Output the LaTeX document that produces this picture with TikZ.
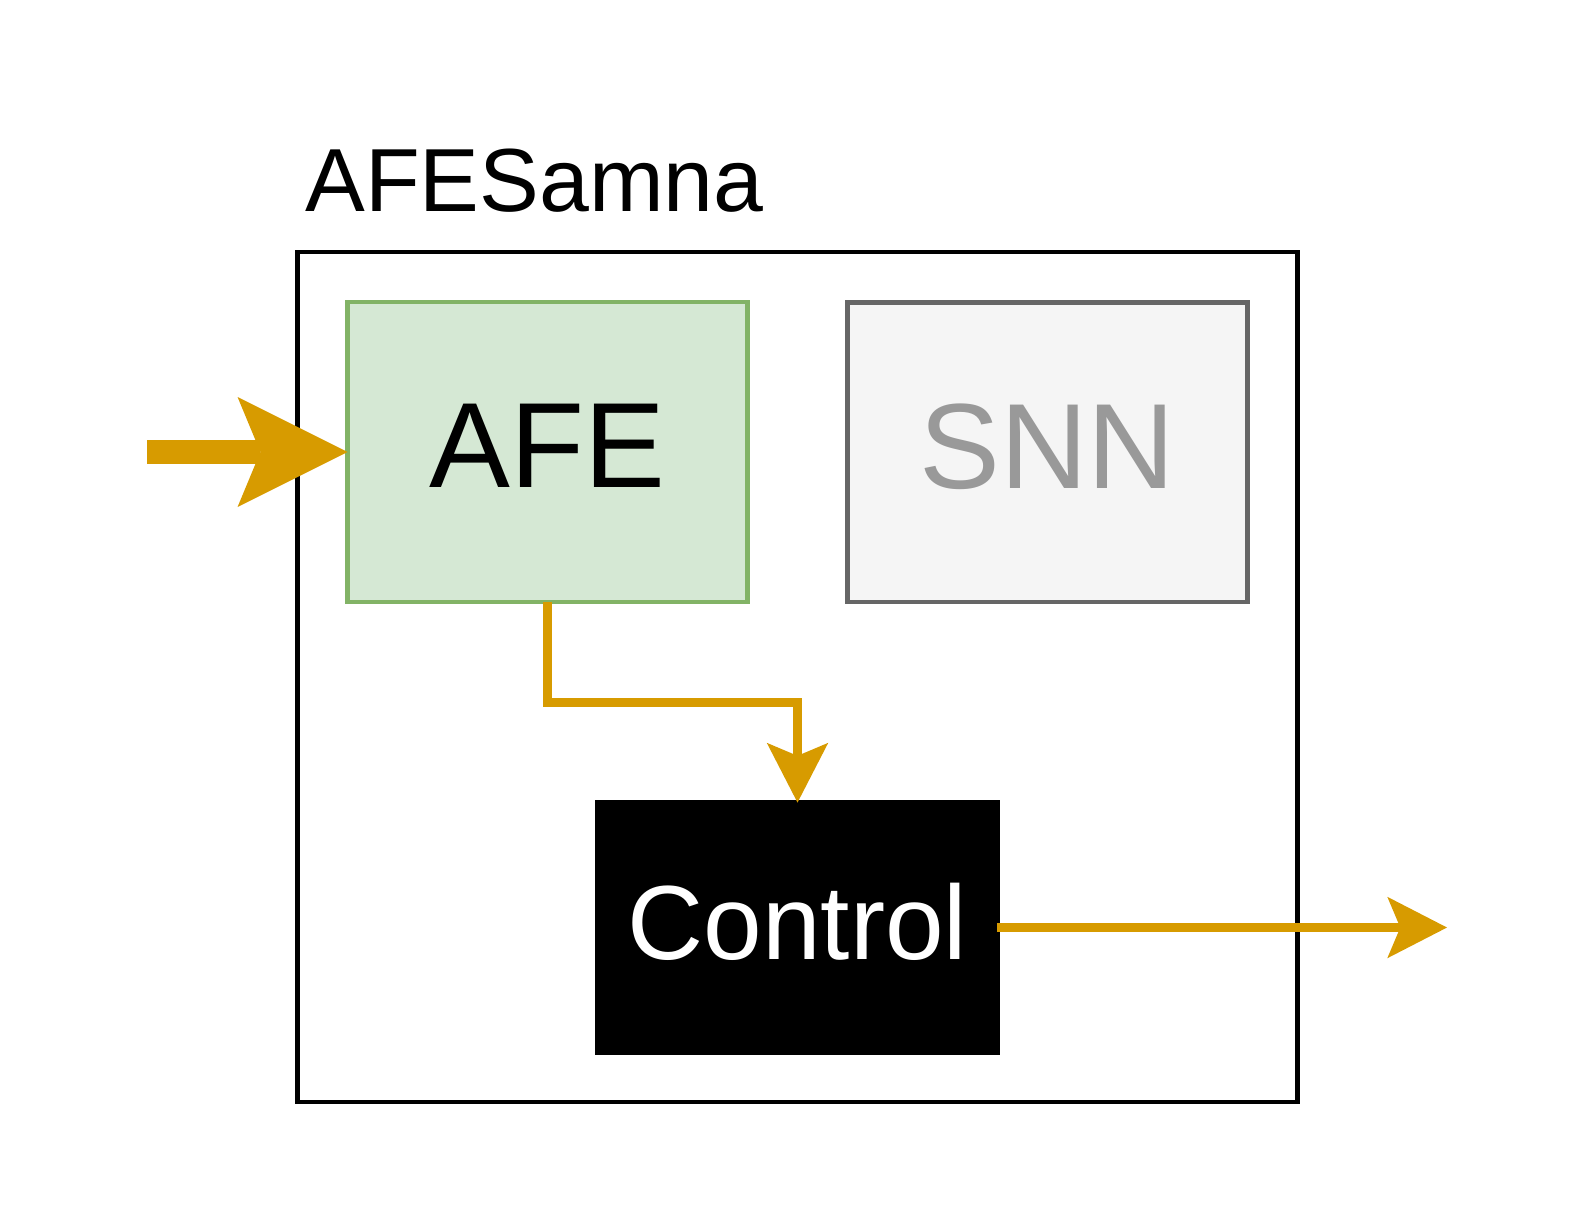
\documentclass[tikz,border=0pt]{standalone}
\usepackage{fontspec}
\setmainfont{Liberation Sans}
\usetikzlibrary{arrows.meta, positioning}
\definecolor{myorange}{HTML}{D79B00}
\definecolor{afegreen}{HTML}{82B366}
\definecolor{hdrgreen}{HTML}{D5E8D4}
\definecolor{snngray}{HTML}{666666}
\definecolor{hdrgray}{HTML}{F5F5F5}
\definecolor{snntext}{HTML}{999999}
\tikzset{
  container/.style={rectangle, draw=black, line width=2.5pt,
    minimum width=20cm, minimum height=17cm, outer sep=0pt},
  afeblock/.style={rectangle, draw=afegreen, fill=hdrgreen,
    minimum width=8cm, minimum height=6cm, line width=2.6pt,
    font=\fontsize{69}{83}\selectfont, text depth=6.8pt, outer sep=0pt},
  snnblock/.style={rectangle, draw=snngray, fill=hdrgray, text=snntext,
    minimum width=8cm, minimum height=6cm, line width=2.8pt,
    font=\fontsize{69}{83}\selectfont, text depth=6.8pt, outer sep=0pt},
  ctrlblock/.style={rectangle, draw=black, fill=black, text=white,
    minimum width=8cm, minimum height=5cm, line width=2.5pt,
    font=\fontsize{60}{72}\selectfont, text depth=6.8pt, outer sep=0pt},
  bigarrow/.style={-{Stealth[length=62.6pt, width=62.6pt, inset=13pt, line width=0pt]},
    line width=14pt, color=myorange},
  arrow/.style={-{Stealth[length=34pt, width=35pt, inset=7.4pt, line width=0pt]},
    line width=5.1pt, color=myorange}
}
\begin{document}
\begin{tikzpicture}[x=0.02cm, y=-0.02cm]
  \useasboundingbox (0,0) rectangle (1595,1205);

  % Samna board
  \node[container] (samna) at (797.5,677) {};
  \node[anchor=base west, inner sep=0pt, font=\fontsize{51}{61}\selectfont] (title) at (305,211) {AFESamna};

  % Blocks
  \node[afeblock] (afe) at (547.5,452) {AFE};
  \node[snnblock, right=2cm of afe] (snn) {SNN};
  \node[ctrlblock] (ctrl) at (797.5,927.5) {Control};

  % Signal in and out
  \coordinate (sigin) at (147,452);
  \coordinate (sigout) at (1447,927.5);
  \draw[bigarrow] (sigin) -- (afe.west);
  \draw[arrow] (afe.south) -- ++(0,100.5) -| (ctrl.north);
  \draw[arrow] (ctrl.east) -- (sigout);
\end{tikzpicture}
\end{document}
